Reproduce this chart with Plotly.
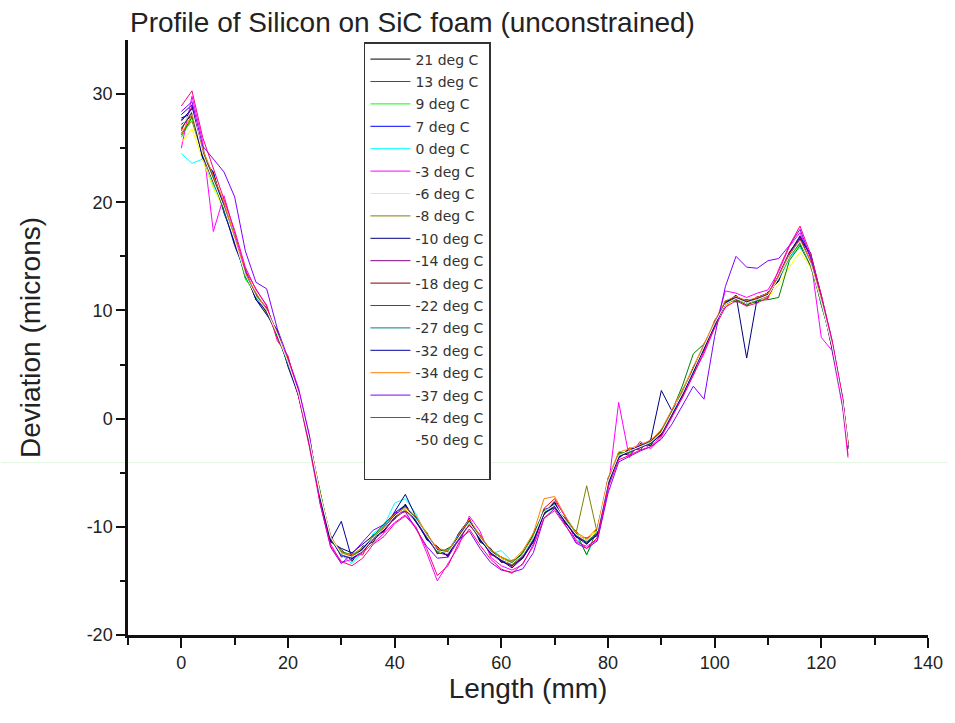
import plotly.graph_objects as go

# ---------------- data ----------------
length_mm = [0, 2, 4, 6, 8, 10, 12, 14,
             16, 18, 20, 22, 24, 26, 28, 30,
             32, 34, 36, 38, 40, 42, 44, 46,
             48, 50, 52, 54, 56, 58, 60, 62,
             64, 66, 68, 70, 72, 74, 76, 78,
             80, 82, 84, 86, 88, 90, 92, 94,
             96, 98, 100, 102, 104, 106, 108, 110,
             112, 114, 116, 118, 120, 122, 124, 125]

labels = ["21 deg C", "13 deg C", "9 deg C", "7 deg C", "0 deg C", "-3 deg C",
          "-6 deg C", "-8 deg C", "-10 deg C", "-14 deg C", "-18 deg C",
          "-22 deg C", "-27 deg C", "-32 deg C", "-34 deg C", "-37 deg C",
          "-42 deg C", "-50 deg C"]

dev_21 = [27.2, 28.0, 24.8, 22.3, 19.2, 16.8, 13.0, 11.6,
          9.7, 8.0, 5.0, 2.6, -2.3, -6.8, -11.3, -12.1,
          -13.2, -11.8, -11.4, -9.9, -9.3, -7.9, -9.6, -10.5,
          -12.5, -12.0, -11.3, -9.2, -11.4, -12.0, -13.3, -13.1,
          -12.9, -10.6, -8.9, -7.7, -9.7, -10.4, -11.6, -10.1,
          -6.1, -3.1, -3.4, -2.3, -2.5, -1.0, 0.2, 2.7,
          4.2, 6.9, 8.5, 10.9, 10.8, 11.0, 10.7, 11.7,
          12.7, 15.3, 16.1, 14.6, 10.5, 7.1, 1.2, -2.8]
dev_13 = [26.6, 28.9, 24.2, 22.5, 19.8, 16.2, 13.6, 11.0,
          10.3, 7.5, 5.4, 2.0, -1.7, -7.3, -10.8, -12.8,
          -12.5, -12.6, -10.7, -10.5, -8.8, -8.6, -9.0, -11.1,
          -11.9, -12.7, -10.8, -9.9, -10.7, -12.6, -12.8, -13.7,
          -12.3, -11.3, -8.3, -7.4, -9.1, -11.0, -11.0, -10.7,
          -5.5, -3.7, -2.7, -2.9, -1.9, -1.6, 0.8, 2.1,
          4.8, 6.3, 9.1, 10.3, 11.4, 10.4, 11.3, 11.1,
          13.3, 15.4, 16.7, 14.0, 11.1, 6.5, 1.8, -2.2]
dev_9 = [26.0, 27.8, 25.1, 21.7, 19.9, 16.9, 12.9, 11.5,
         9.8, 8.1, 4.9, 2.5, -2.2, -6.7, -11.2, -12.3,
         -12.6, -11.9, -11.2, -9.8, -9.2, -8.1, -9.5, -10.6,
         -12.4, -12.1, -11.2, -9.4, -11.2, -12.1, -12.8, -13.2,
         -12.8, -10.8, -8.8, -8.2, -9.6, -10.5, -11.5, -10.2,
         -6.0, -3.2, -3.2, -2.4, -2.4, -1.1, 0.3, 2.6,
         4.3, 6.8, 8.6, 10.8, 10.9, 10.9, 10.8, 11.6,
         12.8, 14.8, 16.2, 14.5, 10.6, 7.0, 1.3, -2.6]
dev_7 = [28.1, 29.0, 24.0, 22.8, 19.0, 16.3, 13.8, 11.2,
         10.1, 7.6, 5.3, 2.2, -1.9, -7.2, -11.1, -12.7,
         -12.9, -12.0, -10.9, -10.3, -8.7, -8.0, -9.4, -11.0,
         -12.0, -12.6, -10.9, -9.5, -10.9, -12.4, -13.1, -13.3,
         -12.5, -11.2, -8.4, -8.1, -9.3, -10.9, -11.1, -10.5,
         -5.7, -3.5, -3.1, -2.5, -2.1, -1.4, 0.6, 2.3,
         4.6, 6.5, 8.9, 10.5, 11.2, 10.6, 11.1, 11.3,
         13.1, 15.1, 16.6, 14.2, 10.9, 6.7, 1.6, -2.4]
dev_0 = [24.5, 23.6, 24.0, 21.5, 19.7, 16.4, 13.1, 11.4,
         9.9, 7.7, 5.1, 2.4, -2.1, -6.9, -10.9, -12.6,
         -13.4, -12.3, -10.6, -9.9, -7.8, -7.4, -8.8, -10.9,
         -12.1, -12.3, -10.6, -9.7, -11.1, -12.5, -12.2, -13.2,
         -12.7, -11.1, -8.7, -7.9, -9.5, -10.8, -12.5, -10.9,
         -6.3, -3.5, -2.9, -2.7, -2.3, -1.2, 0.4, 2.5,
         4.4, 6.7, 8.7, 10.7, 11.0, 10.8, 10.9, 11.5,
         12.9, 14.9, 15.8, 14.4, 10.7, 6.9, 1.4, -2.5]
dev_m3 = [25.0, 29.8, 25.6, 17.3, 20.6, 17.2, 13.7, 12.0,
          10.4, 7.4, 5.6, 2.8, -1.5, -7.6, -11.6, -13.3,
          -13.0, -12.4, -11.5, -10.6, -9.6, -8.9, -10.0, -12.4,
          -15.0, -13.4, -11.8, -9.0, -10.4, -12.8, -13.6, -14.0,
          -13.5, -11.6, -8.8, -7.6, -9.0, -11.4, -11.8, -11.2,
          -6.6, 1.5, -3.6, -2.1, -2.8, -1.7, 0.1, 2.0,
          4.1, 6.0, 8.4, 11.8, 11.6, 11.2, 11.6, 11.9,
          13.6, 15.9, 17.2, 14.8, 7.5, 6.3, 1.0, -3.6]
dev_m6 = [25.5, 26.8, 23.9, 21.3, 19.4, 16.6, 13.2, 11.1,
          9.8, 7.9, 5.2, 2.2, -2.0, -7.1, -11.0, -12.4,
          -12.7, -12.0, -10.8, -10.1, -9.1, -8.4, -9.2, -10.7,
          -12.3, -12.5, -10.9, -9.7, -11.2, -12.2, -12.9, -13.3,
          -12.4, -11.0, -8.5, -8.1, -9.3, -10.6, -11.2, -10.3,
          -6.0, -3.3, -3.0, -2.6, -2.1, -1.3, 0.5, 2.4,
          4.6, 6.6, 8.7, 10.5, 11.0, 10.6, 11.1, 11.2,
          12.4, 14.0, 15.4, 14.0, 10.9, 6.8, 1.6, -2.4]
dev_m8 = [26.4, 27.5, 24.4, 22.1, 19.6, 16.4, 13.4, 11.2,
          10.0, 7.8, 5.1, 2.4, -2.1, -7.0, -11.1, -12.4,
          -12.7, -12.1, -11.1, -10.0, -8.9, -8.2, -9.2, -10.9,
          -12.1, -12.3, -11.1, -9.5, -11.0, -12.2, -13.0, -13.5,
          -12.7, -10.9, -8.7, -8.0, -9.5, -10.6, -6.2, -10.6,
          -5.9, -3.4, -3.1, -2.6, -2.3, -1.2, 0.4, 2.5,
          4.5, 6.7, 8.8, 10.6, 11.0, 10.8, 11.0, 11.3,
          13.0, 14.9, 16.3, 14.3, 10.8, 6.9, 1.5, -2.5]
dev_m10 = [27.8, 28.2, 24.1, 22.6, 19.3, 16.0, 13.5, 11.0,
           9.6, 8.2, 4.8, 2.1, -2.4, -7.4, -11.4, -12.0,
           -12.4, -11.6, -10.8, -10.4, -8.6, -7.0, -9.1, -11.2,
           -11.8, -12.8, -10.6, -9.3, -11.3, -12.0, -13.2, -13.6,
           -12.9, -11.4, -8.7, -7.8, -9.6, -10.9, -11.4, -10.8,
           -5.6, -3.6, -2.8, -2.7, -2.0, 2.6, 0.7, 2.2,
           4.7, 6.4, 9.0, 10.7, 11.4, 5.6, 11.2, 11.6,
           12.8, 15.2, 16.5, 15.3, 11.3, 6.6, 1.7, -2.3]
dev_m14 = [27.5, 28.7, 24.6, 22.4, 19.8, 16.7, 13.4, 11.5,
           10.2, 7.9, 5.3, 2.3, -1.8, -7.1, -11.0, -12.6,
           -12.9, -12.3, -11.2, -10.4, -9.2, -8.5, -9.5, -11.0,
           -12.4, -12.6, -11.2, -9.8, -11.1, -12.5, -13.2, -13.6,
           -12.8, -11.2, -8.7, -8.2, -9.5, -10.8, -11.5, -10.6,
           -6.0, -3.5, -3.1, -2.7, -2.3, -1.4, 0.4, 2.3,
           4.4, 6.5, 8.7, 10.6, 11.2, 10.9, 11.1, 11.5,
           13.2, 15.2, 16.8, 14.5, 11.0, 7.0, 1.6, -2.6]
dev_m18 = [26.8, 28.3, 24.3, 21.9, 19.4, 16.5, 13.2, 11.3,
           9.9, 7.7, 5.2, 2.3, -2.0, -7.0, -11.1, -12.5,
           -12.8, -12.2, -11.0, -10.2, -9.1, -8.3, -9.3, -10.8,
           -12.2, -12.4, -11.0, -9.6, -11.0, -12.3, -13.0, -13.4,
           -12.6, -11.0, -8.6, -8.0, -9.4, -10.7, -11.3, -10.4,
           -5.8, -3.4, -3.0, -2.6, -2.2, -1.3, 0.5, 2.4,
           4.5, 6.6, 8.8, 10.6, 11.1, 10.7, 11.0, 11.4,
           13.0, 15.0, 16.4, 14.3, 10.8, 6.8, 1.5, -2.5]
dev_m22 = [26.2, 27.9, 24.7, 22.2, 19.1, 16.6, 13.1, 11.4,
           9.8, 7.6, 5.0, 2.5, -2.2, -6.8, -11.2, -12.3,
           -12.6, -12.1, -10.9, -9.7, -8.9, -8.1, -9.4, -10.7,
           -12.3, -12.2, -10.8, -9.4, -10.8, -12.2, -12.8, -13.3,
           -12.4, -10.7, -8.5, -8.3, -9.2, -10.5, -12.6, -10.2,
           -5.9, -3.2, -3.1, -2.5, -2.1, -1.1, 0.7, 3.1,
           6.0, 6.9, 8.6, 10.8, 11.0, 10.5, 10.9, 11.0,
           11.2, 14.6, 16.0, 14.1, 10.7, 6.9, 1.6, -2.4]
dev_m27 = [26.9, 28.4, 24.5, 22.0, 19.6, 16.5, 13.3, 11.2,
           10.0, 7.8, 5.1, 2.3, -2.0, -7.0, -11.0, -12.6,
           -12.8, -12.1, -11.0, -10.1, -8.9, -8.3, -9.2, -10.8,
           -12.2, -12.4, -11.0, -9.5, -11.1, -12.3, -13.0, -13.4,
           -12.6, -11.1, -8.6, -8.0, -9.4, -10.7, -11.4, -10.4,
           -5.8, -3.4, -3.0, -2.6, -2.2, -1.3, 0.5, 2.4,
           4.5, 6.6, 8.8, 10.6, 11.1, 10.7, 11.0, 11.4,
           13.0, 15.0, 16.3, 14.3, 10.8, 6.8, 1.5, -2.5]
dev_m32 = [27.6, 28.6, 24.2, 22.7, 19.5, 16.2, 13.6, 11.0,
           9.9, 7.9, 5.2, 2.1, -2.1, -7.2, -11.3, -9.5,
           -13.0, -12.0, -11.0, -10.3, -8.9, -8.0, -9.5, -11.1,
           -12.1, -12.7, -10.8, -9.3, -11.2, -12.4, -13.1, -13.8,
           -12.9, -11.3, -8.8, -8.1, -9.6, -10.9, -11.6, -10.7,
           -6.1, -3.6, -3.0, -2.5, -2.3, -1.5, 0.3, 2.2,
           4.3, 6.4, 8.6, 10.7, 11.3, 10.8, 11.2, 11.6,
           13.2, 15.3, 16.9, 15.0, 11.2, 7.0, 1.4, -2.6]
dev_m34 = [26.3, 28.1, 24.9, 22.4, 20.0, 16.7, 13.5, 11.6,
           10.1, 7.9, 5.4, 2.4, -1.8, -6.9, -10.9, -12.4,
           -12.6, -11.9, -10.9, -10.0, -8.8, -8.2, -9.0, -10.6,
           -12.0, -12.2, -10.7, -9.3, -10.8, -12.1, -12.8, -13.2,
           -12.2, -10.6, -7.4, -7.2, -9.0, -10.5, -11.1, -10.1,
           -5.5, -3.1, -2.8, -2.4, -2.0, -1.0, 0.8, 2.7,
           4.8, 6.9, 9.0, 10.9, 11.3, 10.9, 11.2, 11.6,
           13.2, 15.2, 16.5, 14.6, 11.1, 7.1, 1.8, -2.2]
dev_m37 = [28.4, 29.3, 25.2, 24.0, 22.8, 20.5, 15.5, 12.6,
           12.0, 8.3, 5.6, 2.6, -1.6, -7.8, -11.9, -13.4,
           -12.5, -11.4, -10.3, -9.8, -8.7, -8.6, -10.2, -11.8,
           -12.9, -12.8, -11.2, -10.4, -12.0, -13.3, -14.0, -14.2,
           -13.9, -12.4, -9.2, -8.3, -9.8, -11.5, -12.0, -11.3,
           -6.9, -4.0, -3.5, -3.0, -2.6, -1.9, -0.5, 1.2,
           3.0, 1.8, 7.6, 12.2, 15.0, 14.0, 13.9, 14.6,
           14.8, 16.0, 17.5, 14.9, 11.4, 7.2, 1.9, -2.7]
dev_m42 = [28.9, 30.3, 26.0, 23.2, 20.2, 17.4, 14.0, 11.9,
           10.5, 7.2, 5.8, 2.0, -2.6, -7.8, -11.8, -13.2,
           -13.6, -12.9, -11.6, -10.9, -9.7, -9.0, -10.1, -12.0,
           -14.5, -13.6, -11.5, -10.2, -11.7, -13.0, -13.9, -14.3,
           -13.4, -11.8, -9.2, -8.5, -9.9, -11.2, -12.0, -11.0,
           -6.4, -3.8, -3.4, -2.9, -2.6, -1.6, 0.2, 2.0,
           4.0, 6.2, 8.4, 10.3, 10.9, 10.4, 10.7, 11.2,
           13.8, 16.0, 17.8, 15.2, 11.4, 7.3, 1.9, -3.4]
dev_m50 = [27.0, 28.5, 24.5, 22.0, 19.5, 16.5, 13.3, 11.3,
           10.0, 7.8, 5.2, 2.3, -2.0, -7.0, -11.0, -12.5,
           -12.8, -12.2, -11.0, -10.2, -9.0, -8.3, -9.3, -10.8,
           -12.2, -12.4, -11.0, -9.6, -11.0, -12.3, -13.0, -13.4,
           -12.6, -11.0, -8.6, -8.0, -9.4, -10.7, -11.3, -10.4,
           -5.8, -3.4, -3.0, -2.6, -2.2, -1.3, 0.5, 2.4,
           4.5, 6.6, 8.8, 10.6, 11.1, 10.7, 11.0, 11.4,
           13.0, 15.0, 16.4, 14.3, 10.8, 6.8, 1.5, -2.5]

series = [dev_21, dev_13, dev_9, dev_7, dev_0, dev_m3, dev_m6, dev_m8, dev_m10,
          dev_m14, dev_m18, dev_m22, dev_m27, dev_m32, dev_m34, dev_m37, dev_m42, dev_m50]

colors = ["#000000", "#FF0000", "#00FF00", "#0000FF", "#00FFFF", "#FF00FF",
          "#FFFF00", "#808000", "#000080", "#800080", "#800000", "#008000",
          "#008080", "#0000A0", "#FF8000", "#8000FF", "#FF0080", "#FFFFFF"]

y_ticks = [-20, -10, 0, 10, 20, 30]
x_ticks = [0, 20, 40, 60, 80, 100, 120, 140]

# ---------------- figure ----------------
fig = go.Figure()
for i, (name, ys, col) in enumerate(zip(labels, series, colors)):
    fig.add_trace(go.Scatter(x=length_mm, y=ys, mode="lines", name=name,
                             legendgroup="g%02d" % i,
                             line=dict(color=col, width=1)))
# blank padding row at the bottom of the legend box
fig.add_trace(go.Scatter(x=[None], y=[None], mode="lines", name=" ",
                         legendgroup="g99", line=dict(color="#FFFFFF", width=1),
                         hoverinfo="skip"))

FONT = "Liberation Sans, Arial, sans-serif"
axis_color = "#111111"

fig.update_layout(
    width=955, height=723,
    margin=dict(l=128, r=20, t=40, b=88),
    paper_bgcolor="white", plot_bgcolor="white",
    font=dict(family=FONT, color="#222222"),
    title=dict(text="Profile of Silicon on SiC foam (unconstrained)",
               x=130 / 955, xanchor="left", xref="container",
               y=1 - 22 / 723, yanchor="middle", yref="container",
               font=dict(family=FONT, size=28, color="#222222")),
    showlegend=True,
    legend=dict(x=(366 - 128) / 807, y=(635 - 42) / 595, xanchor="left", yanchor="top",
                bgcolor="white", bordercolor="#333333", borderwidth=1.5,
                font=dict(family="DejaVu Sans, sans-serif", size=14, color="#333333"),
                tracegroupgap=1.2, itemwidth=40, traceorder="grouped"),
    xaxis=dict(range=[-10, 140], tickvals=x_ticks, ticktext=[str(v) for v in x_ticks],
               showgrid=False, zeroline=False,
               showline=True, linecolor=axis_color, linewidth=2.5,
               ticks="outside", ticklen=10, tickwidth=2, tickcolor=axis_color,
               minor=dict(tickvals=[-10, 10, 30, 50, 70, 90, 110, 130],
                          ticks="outside", ticklen=7, tickwidth=2, tickcolor=axis_color,
                          showgrid=False),
               tickfont=dict(family=FONT, size=18, color="#222222"),
               title=dict(text="Length (mm)", standoff=6,
                          font=dict(family=FONT, size=28, color="#222222"))),
    yaxis=dict(range=[-20, 35], tickvals=y_ticks, ticktext=[str(v) for v in y_ticks],
               showgrid=False, zeroline=False,
               showline=True, linecolor=axis_color, linewidth=2.5,
               ticks="outside", ticklen=9, tickwidth=2, tickcolor=axis_color,
               minor=dict(tickvals=[-15, -5, 5, 15, 25],
                          ticks="outside", ticklen=5, tickwidth=2, tickcolor=axis_color,
                          showgrid=False),
               tickfont=dict(family=FONT, size=18, color="#222222"),
               title=dict(text="Deviation (microns)", standoff=38,
                          font=dict(family=FONT, size=28, color="#222222"))),
    shapes=[dict(type="line", xref="paper", yref="y", x0=-128 / 807, x1=827 / 807,
                 y0=-4.07, y1=-4.07, line=dict(color="#E2F6E2", width=1), layer="below")],
)

fig.write_html("out.html")
